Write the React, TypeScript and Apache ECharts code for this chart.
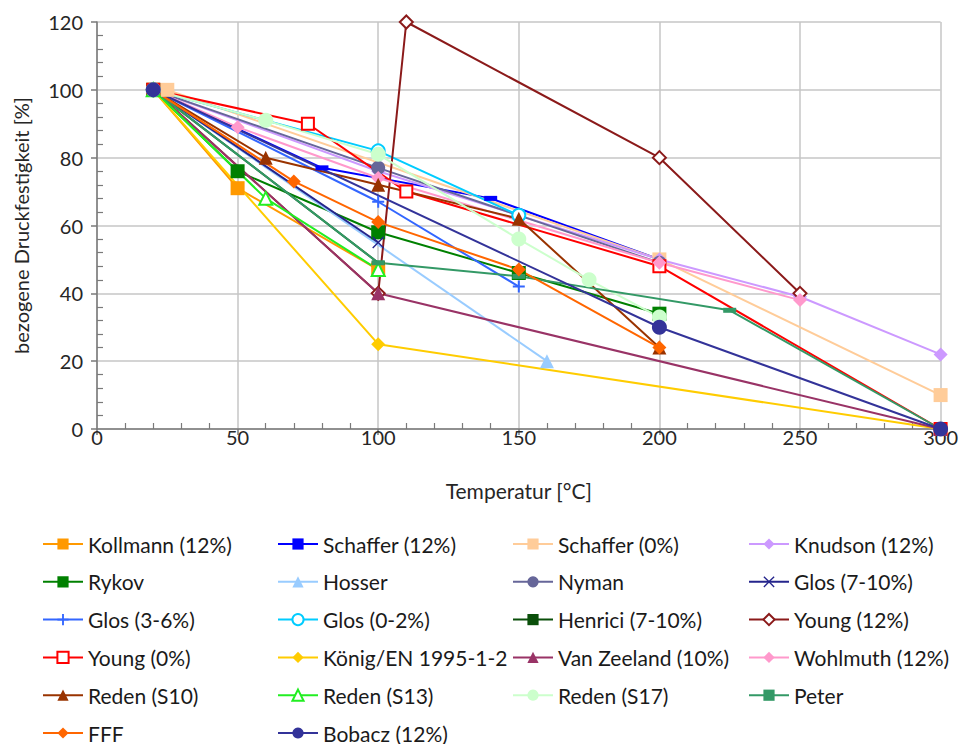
import React, { useEffect, useRef } from "react";
import * as echarts from "echarts";

// ---- data: [temperature °C, relative compressive strength %] ----
const kollmann = [[20, 100], [50, 71], [100, 47]];
const schaffer12 = [[20, 100], [80, 77], [140, 68], [200, 50]];
const schaffer0 = [[25, 100], [200, 50], [300, 10]];
const knudson = [[20, 100], [100, 76], [200, 50], [250, 39], [300, 22]];
const rykov = [[20, 100], [50, 76], [100, 58], [150, 46], [200, 34]];
const hosser = [[20, 100], [160, 20]];
const nyman = [[20, 100], [100, 77], [150, 63], [200, 49]];
const glos710 = [[20, 100], [100, 55]];
const glos36 = [[20, 100], [100, 67], [150, 42]];
const glos02 = [[20, 100], [100, 82], [150, 63]];
const henrici = [[20, 100], [100, 49]];
const young12 = [[20, 100], [100, 40], [110, 120], [200, 80], [250, 40]];
const young0 = [[20, 100], [75, 90], [110, 70], [200, 48], [300, 0]];
const koenig = [[20, 100], [100, 25], [300, 0]];
const vanZeeland = [[20, 100], [100, 40], [300, 0]];
const wohlmuth = [[20, 100], [50, 89], [100, 74], [200, 49], [250, 38]];
const reden10 = [[20, 100], [60, 80], [100, 72], [150, 62], [200, 24]];
const reden13 = [[20, 100], [60, 68], [100, 47]];
const reden17 = [[20, 100], [60, 91], [100, 81], [150, 56], [175, 44], [200, 33]];
const peter = [[20, 100], [100, 49], [150, 45], [225, 35], [300, 0]];
const fff = [[20, 100], [70, 73], [100, 61], [150, 47], [200, 24]];
const bobacz = [[20, 100], [200, 30], [300, 0]];

const xTicks = [0, 50, 100, 150, 200, 250, 300];
const yTicks = [0, 20, 40, 60, 80, 100, 120];

const DASH = "path://M0,0H12V4H0Z";
const PLUS = "path://M5,0H7V12H5ZM0,5H12V7H0Z";
const CROSS = "path://M0,1L1,0L6,5L11,0L12,1L7,6L12,11L11,12L6,7L1,12L0,11L5,6Z";

type S = { name: string; data: number[][]; color: string; symbol: string; size: any };
const seriesDefs: S[] = [
  { name: "Kollmann (12%)", data: kollmann, color: "#FF9900", symbol: "rect", size: 14 },
  { name: "Schaffer (12%)", data: schaffer12, color: "#0000FF", symbol: DASH, size: [13, 5] },
  { name: "Schaffer (0%)", data: schaffer0, color: "#FFCC99", symbol: "rect", size: 14 },
  { name: "Knudson (12%)", data: knudson, color: "#CC99FF", symbol: "diamond", size: 14 },
  { name: "Rykov", data: rykov, color: "#008000", symbol: "rect", size: 14 },
  { name: "Hosser", data: hosser, color: "#99CCFF", symbol: "triangle", size: 14 },
  { name: "Nyman", data: nyman, color: "#666699", symbol: "circle", size: 14 },
  { name: "Glos (7-10%)", data: glos710, color: "#25258C", symbol: CROSS, size: 12 },
  { name: "Glos (3-6%)", data: glos36, color: "#3366FF", symbol: PLUS, size: 12 },
  { name: "Glos (0-2%)", data: glos02, color: "#00CCFF", symbol: "emptyCircle", size: 13 },
  { name: "Henrici (7-10%)", data: henrici, color: "#0A4F0A", symbol: DASH, size: [13, 4] },
  { name: "Young (12%)", data: young12, color: "#8B1A1A", symbol: "emptyDiamond", size: 13 },
  { name: "Young (0%)", data: young0, color: "#FF0000", symbol: "emptyRect", size: 12 },
  { name: "König/EN 1995-1-2", data: koenig, color: "#FFCC00", symbol: "diamond", size: 14 },
  { name: "Van Zeeland (10%)", data: vanZeeland, color: "#993366", symbol: "triangle", size: 14 },
  { name: "Wohlmuth (12%)", data: wohlmuth, color: "#FF99CC", symbol: "diamond", size: 14 },
  { name: "Reden (S10)", data: reden10, color: "#993300", symbol: "triangle", size: 14 },
  { name: "Reden (S13)", data: reden13, color: "#22EE22", symbol: "emptyTriangle", size: 13 },
  { name: "Reden (S17)", data: reden17, color: "#CCFFCC", symbol: "circle", size: 15 },
  { name: "Peter", data: peter, color: "#339966", symbol: DASH, size: [13, 5] },
  { name: "FFF", data: fff, color: "#FF6600", symbol: "diamond", size: 14 },
  { name: "Bobacz (12%)", data: bobacz, color: "#333399", symbol: "circle", size: 15 },
];

const legendCols = [
  ["Kollmann (12%)", "Rykov", "Glos (3-6%)", "Young (0%)", "Reden (S10)", "FFF"],
  ["Schaffer (12%)", "Hosser", "Glos (0-2%)", "König/EN 1995-1-2", "Reden (S13)", "Bobacz (12%)"],
  ["Schaffer (0%)", "Nyman", "Henrici (7-10%)", "Van Zeeland (10%)", "Reden (S17)"],
  ["Knudson (12%)", "Glos (7-10%)", "Young (12%)", "Wohlmuth (12%)", "Peter"],
];
const legendLeft = [42, 277, 512, 748];

const FONT = "Lato";
const TXT = "#262626";

export default function App() {
  const ref = useRef<HTMLDivElement>(null);
  useEffect(() => {
    if (!ref.current) return;
    const chart = echarts.init(ref.current, undefined, { renderer: "svg" });
    const axisLine = { show: true, lineStyle: { color: "#7a7a7a", width: 1.5 } };
    const option: any = {
      animation: false,
      backgroundColor: "#ffffff",
      textStyle: { fontFamily: FONT },
      grid: { left: 97, right: 19, top: 22, bottom: 315 },
      xAxis: [
        {
          type: "value",
          min: xTicks[0],
          max: xTicks[xTicks.length - 1],
          interval: 50,
          position: "bottom",
          name: "Temperatur [°C]",
          nameLocation: "middle",
          nameGap: 51,
          nameTextStyle: { fontFamily: FONT, fontSize: 21, color: TXT },
          axisLine,
          axisTick: { show: true, length: 6, lineStyle: { color: "#7a7a7a", width: 1.5 } },
          axisLabel: { fontFamily: FONT, fontSize: 20, color: TXT, margin: -2 },
          splitLine: { show: true, lineStyle: { color: "#c6c6c6", width: 1.5 } },
        },
        {
          type: "value",
          min: xTicks[0],
          max: xTicks[xTicks.length - 1],
          interval: 50,
          position: "bottom",
          axisLine: { show: false },
          axisTick: { show: false, inside: true },
          axisLabel: { show: false },
          splitLine: { show: false },
          minorTick: { show: true, splitNumber: 5, length: 6, lineStyle: { color: "#7a7a7a", width: 1.2 } },
        },
      ],
      yAxis: [
        {
          type: "value",
          min: yTicks[0],
          max: yTicks[yTicks.length - 1],
          interval: 20,
          name: "bezogene Druckfestigkeit [%]",
          nameLocation: "middle",
          nameGap: 66,
          nameTextStyle: { fontFamily: FONT, fontSize: 20, color: TXT },
          axisLine,
          axisTick: { show: true, length: 6, lineStyle: { color: "#7a7a7a", width: 1.5 } },
          axisLabel: { fontFamily: FONT, fontSize: 20, color: TXT, margin: 14 },
          splitLine: { show: true, lineStyle: { color: "#c6c6c6", width: 1.5 } },
        },
        {
          type: "value",
          min: yTicks[0],
          max: yTicks[yTicks.length - 1],
          interval: 20,
          position: "left",
          axisLine: { show: false },
          axisTick: { show: false, inside: true },
          axisLabel: { show: false },
          splitLine: { show: false },
          minorTick: { show: true, splitNumber: 5, length: 6, lineStyle: { color: "#7a7a7a", width: 1.2 } },
        },
      ],
      legend: legendCols.map((names, i) => ({
        orient: "vertical",
        left: legendLeft[i],
        top: 533,
        height: 300,
        padding: 0,
        data: names,
        itemWidth: 40,
        itemHeight: 14,
        itemGap: 15.8,
        textStyle: { fontFamily: FONT, fontSize: 21, color: "#1a1a1a", lineHeight: 22 },
        selectedMode: false,
      })),
      series: seriesDefs.map((s) => ({
        name: s.name,
        type: "line",
        xAxisIndex: 0,
        yAxisIndex: 0,
        data: s.data,
        symbol: s.symbol,
        symbolSize: s.size,
        showSymbol: true,
        lineStyle: { color: s.color, width: 2 },
        itemStyle: { color: s.color, borderWidth: 1.5 },
        emphasis: { disabled: true },
      })),
    };
    chart.setOption(option);
    return () => chart.dispose();
  }, []);
  return (
    <div
      ref={ref}
      style={{ position: "fixed", left: 0, top: 0, width: 961, height: 744, background: "#fff" }}
    />
  );
}
